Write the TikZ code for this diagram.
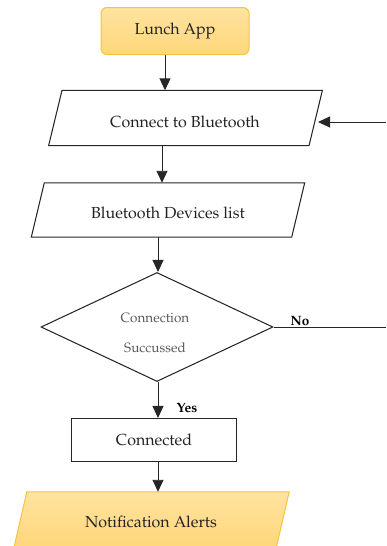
\documentclass[tikz,border=0pt]{standalone}
\usepackage[T1]{fontenc}
\usepackage{mathpazo}
\usetikzlibrary{arrows.meta,shapes.geometric}
\definecolor{fillorange}{HTML}{FFD77A}
\definecolor{fillorangetop}{HTML}{FFE3A0}
\definecolor{edgeorange}{HTML}{F6C444}
\definecolor{txt}{HTML}{222222}
\tikzset{
  arr/.style={draw=black!85, line width=0.9pt, -{Triangle[width=11pt,length=12pt]}},
  line/.style={draw=black!85, line width=0.9pt},
  lbl/.style={inner sep=0pt, font=\fontsize{16}{18}\selectfont, text=txt},
  small/.style={inner sep=0pt, font=\fontsize{13.5}{15}\selectfont, text=black!65},
  yn/.style={inner sep=0pt, font=\bfseries\fontsize{13.5}{15}\selectfont, text=black},
  shapeedge/.style={draw=black!85, line width=1.05pt},
  orangebox/.style={draw=edgeorange, line width=1pt, top color=fillorangetop, bottom color=fillorange},
}
\begin{document}
\begin{tikzpicture}[x=1pt,y=-1pt]
\useasboundingbox (0,0) rectangle (386,546);
% Lunch App
\node[orangebox, rounded corners=6pt, minimum width=148pt, minimum height=47pt, lbl] (lunch) at (175,31) {Lunch App};
% Connect to Bluetooth (parallelogram)
\node[minimum width=260pt, minimum height=55pt, inner sep=0pt] (conn) at (185.5,118) {};
\draw[shapeedge] ([xshift=6.7pt]conn.north west) -- ([xshift=6.7pt]conn.north east) -- ([xshift=-6.7pt]conn.south east) -- ([xshift=-6.7pt]conn.south west) -- cycle;
\node[lbl] at (185,122) {Connect to Bluetooth};
% Bluetooth Devices list
\node[minimum width=260pt, minimum height=54pt, inner sep=0pt] (list) at (168,210) {};
\draw[shapeedge] ([xshift=6.5pt]list.north west) -- ([xshift=6.5pt]list.north east) -- ([xshift=-6.5pt]list.south east) -- ([xshift=-6.5pt]list.south west) -- cycle;
\node[lbl] at (168,213) {Bluetooth Devices list};
% Decision
\node[shapeedge, diamond, aspect=2.15, minimum width=232pt, minimum height=109pt, inner sep=0pt] (dec) at (157,327) {};
\node[small] at (155,318) {Connection};
\node[small] at (155,348) {Succussed};
% Connected
\node[shapeedge, minimum width=165pt, minimum height=43pt, lbl, inner sep=0pt] (done) at (154,440) {Connected};
% Notification Alerts
\node[minimum width=262pt, minimum height=56pt, inner sep=0pt] (notif) at (151.5,520) {};
\draw[orangebox] ([xshift=6.5pt]notif.north west) -- ([xshift=6.5pt]notif.north east) -- ([xshift=-6.5pt]notif.south east) -- ([xshift=-6.5pt]notif.south west) -- cycle;
\node[lbl] at (151,522) {Notification Alerts};
% connectors
\coordinate (a1) at (165,0);
\coordinate (a2) at (162,0);
\coordinate (a3) at (158,0);
\coordinate (e1) at (386,122);
\coordinate (e2) at (386,0);
\draw[arr] (lunch.south -| a1) -- (conn.north -| a1);
\draw[arr] (conn.south -| a2) -- (list.north -| a2);
\draw[arr] (list.south -| a3) -- (dec.north -| a3);
\draw[arr] (dec.south -| a3) -- (done.north -| a3);
\draw[arr] (done.south -| a3) -- (notif.north -| a3);
\draw[line] (dec.east) -- (dec.east -| e2);
\draw[arr] (e1) -- (318,122);
\node[yn] at (300,321) {No};
\node[yn] at (187,408) {Yes};
\end{tikzpicture}
\end{document}
